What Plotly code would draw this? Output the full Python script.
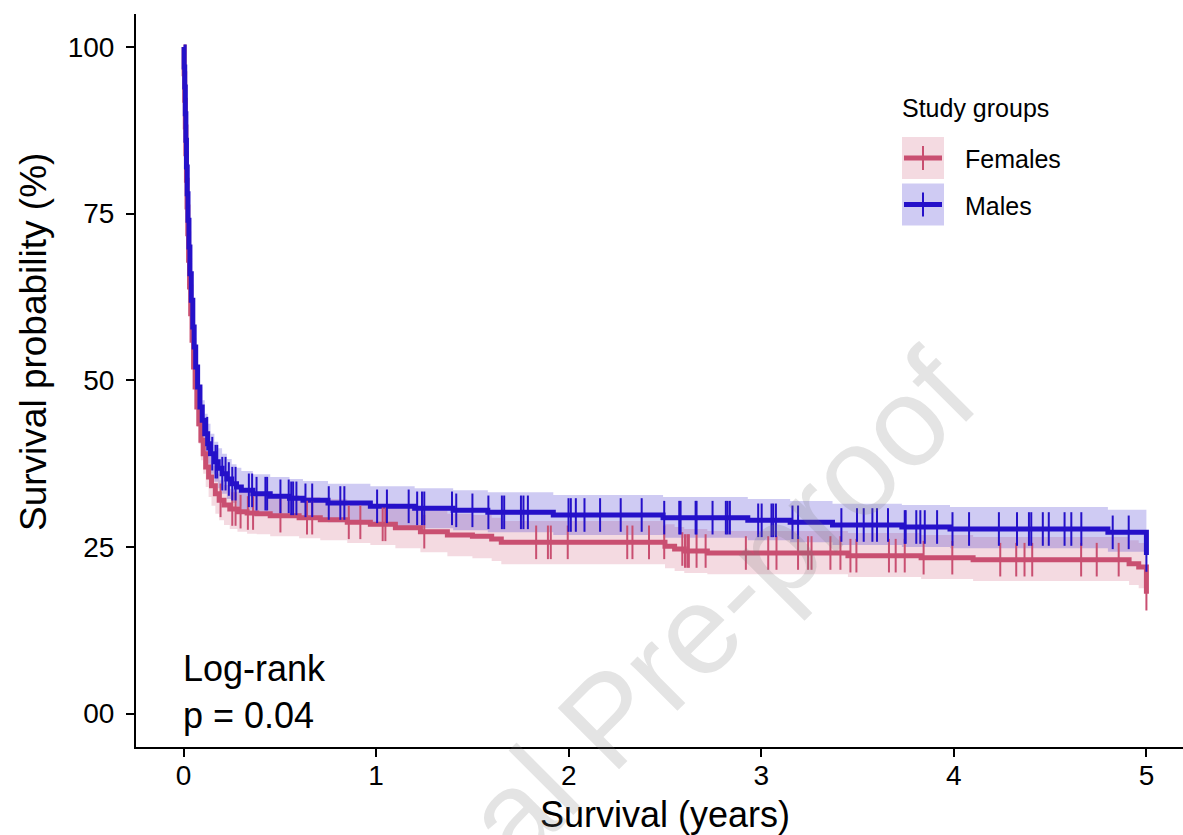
import plotly.graph_objects as go

# ---------------- data ----------------
# Females: KM step times (years), survival (%), 95% CI bounds
t_f = [0, 0.003, 0.006, 0.009, 0.012, 0.015, 0.018, 0.022, 0.026, 0.031, 0.037, 0.044, 0.052, 0.06,
       0.069, 0.079, 0.09, 0.102, 0.115, 0.13, 0.145, 0.165, 0.185, 0.21, 0.24, 0.28, 0.33,
       0.38, 0.45, 0.6, 0.71, 0.85, 0.97, 1.1, 1.23, 1.37, 1.5, 1.6, 1.65, 2.5, 2.55, 2.6, 2.72, 3.45,
       3.83, 4.1, 4.91, 4.96, 5.0]
s_f = [100, 96, 92, 88, 84, 80, 76, 72, 68, 64, 60, 56, 52, 49,
       46, 43.5, 41, 39, 37, 35.5, 34.2, 33, 32, 31.3, 30.7, 30.3, 30.1,
       30.0, 29.7, 29.4, 29.1, 28.7, 28.4, 27.9, 27.3, 26.8, 26.6, 26.2, 25.7, 25.1, 24.7, 24.4, 24.1, 23.7,
       23.4, 23.1, 22.5, 22.0, 18.0]
up_f = [100, 97.5, 94, 90.5, 86.8, 83, 79, 75, 71, 67, 63, 59, 55, 52,
        49, 46.5, 44, 42, 40, 38.5, 37.2, 36, 35, 34.3, 33.7, 33.3, 33.1,
        33.0, 32.8, 32.5, 32.2, 31.8, 31.5, 31.0, 30.5, 30.0, 29.8, 29.4, 28.9, 28.4, 28.0, 27.7, 27.4, 27.1,
        26.8, 26.5, 26.0, 25.6, 21.5]
lo_f = [100, 94.5, 90, 85.5, 81.2, 77, 73, 69, 65, 61, 57, 53, 49, 46,
        43, 40.5, 38, 36, 34, 32.5, 31.2, 30, 29, 28.3, 27.7, 27.3, 27.0,
        26.9, 26.6, 26.3, 26.0, 25.6, 25.3, 24.8, 24.2, 23.6, 23.3, 22.9, 22.4, 21.8, 21.4, 21.1, 20.9, 20.5,
        20.2, 19.9, 19.3, 18.8, 16.5]
cens_f = [0.192, 0.253, 0.270, 0.296, 0.334, 0.361, 0.503, 0.641, 0.668, 0.858, 0.918, 1.034, 1.048, 1.250,
          1.831, 1.892, 1.907, 1.995, 2.304, 2.331, 2.417, 2.496, 2.590, 2.604, 2.616, 2.624, 2.664, 2.711,
          2.920, 3.036, 3.079, 3.191, 3.243, 3.261, 3.359, 3.411, 3.463, 3.494, 3.663, 3.698, 3.745, 3.843,
          3.992, 4.241, 4.324, 4.367, 4.407, 4.661, 4.742, 4.856, 5.0]

# Males
t_m = [0, 0.003, 0.006, 0.009, 0.012, 0.015, 0.019, 0.023, 0.028, 0.033, 0.04, 0.048, 0.055, 0.063,
       0.073, 0.085, 0.097, 0.11, 0.125, 0.14, 0.16, 0.18, 0.2, 0.225, 0.25, 0.275, 0.3,
       0.36, 0.45, 0.55, 0.62, 0.75, 0.97, 1.2, 1.4, 1.58, 1.92, 2.49, 2.93, 3.15, 3.37, 3.73, 3.98, 4.8, 5.0]
s_m = [100, 97, 94, 90, 86, 82, 78, 74, 70, 66, 62, 58, 55, 52,
       49, 46, 44, 42, 40.5, 39, 37.8, 36.8, 36, 35.2, 34.5, 34, 33.5,
       33, 32.6, 32.3, 32.0, 31.6, 31.1, 30.8, 30.5, 30.2, 29.8, 29.4, 29.0, 28.7, 28.3, 28.0, 27.7, 27.2, 23.8]
up_m = [100, 98.2, 95.6, 92, 88.3, 84.5, 80.6, 76.7, 72.8, 68.9, 65, 61, 58, 55,
        52, 49, 47, 45, 43.5, 42, 40.8, 39.8, 39, 38.2, 37.4, 36.9, 36.4,
        35.9, 35.5, 35.2, 34.9, 34.5, 34.1, 33.8, 33.5, 33.2, 32.8, 32.5, 32.2, 31.9, 31.5, 31.3, 31.0, 30.6, 27.5]
lo_m = [100, 95.8, 92.4, 88, 83.7, 79.5, 75.4, 71.3, 67.2, 63.1, 59, 55, 52, 49,
        46, 43, 41, 39, 37.5, 36, 34.8, 33.8, 33, 32.2, 31.6, 31.1, 30.6,
        30.1, 29.7, 29.4, 29.1, 28.7, 28.1, 27.8, 27.5, 27.2, 26.8, 26.4, 26.0, 25.7, 25.3, 25.0, 24.8, 24.3, 21.0]
cens_m = [0.123, 0.149, 0.166, 0.175, 0.201, 0.218, 0.235, 0.253, 0.270, 0.339, 0.356, 0.379, 0.425, 0.434,
          0.503, 0.546, 0.559, 0.569, 0.586, 0.633, 0.668, 0.754, 0.814, 0.835, 1.005, 1.056, 1.169, 1.213,
          1.238, 1.250, 1.394, 1.416, 1.50, 1.583, 1.653, 1.665, 1.752, 1.765, 1.788, 1.999, 2.011, 2.037,
          2.082, 2.163, 2.270, 2.379, 2.496, 2.574, 2.581, 2.659, 2.664, 2.747, 2.816, 2.825, 2.837, 2.984,
          3.002, 3.053, 3.062, 3.076, 3.162, 3.191, 3.416, 3.497, 3.532, 3.577, 3.601, 3.658, 3.745, 3.750,
          3.805, 3.826, 3.849, 3.913, 3.993, 4.079, 4.234, 4.328, 4.390, 4.402, 4.462, 4.493, 4.575, 4.610,
          4.662, 4.825, 4.908, 5.0]

group_names = ["Females", "Males"]
x_ticks = [0, 1, 2, 3, 4, 5]
y_ticks = [0, 25, 50, 75, 100]
y_ticktext = ["00", "25", "50", "75", "100"]
pvalue_text = "Log-rank<br>p = 0.04"

# ---------------- styling ----------------
RED = "#C94F71"
BLUE = "#2511C9"
RED_FILL = "rgba(201,79,113,0.21)"
BLUE_FILL = "rgba(37,17,201,0.22)"
FONT = "Liberation Sans, Arial, sans-serif"

W, H = 1183, 835
ML, MR, MT, MB = 136, 0, 14, 88
PW, PH = W - ML - MR, H - MT - MB


def px(xp):
    return (xp - ML) / PW


def py(yp):
    return (H - MB - yp) / PH


def step_at(times, surv, t):
    v = surv[0]
    for ti, si in zip(times, surv):
        if ti <= t:
            v = si
        else:
            break
    return v


fig = go.Figure()

# confidence bands
for t, lo, up, fc in [(t_f, lo_f, up_f, RED_FILL), (t_m, lo_m, up_m, BLUE_FILL)]:
    fig.add_trace(go.Scatter(x=t, y=lo, mode="lines", line=dict(width=0, shape="hv"),
                             hoverinfo="skip", showlegend=False))
    fig.add_trace(go.Scatter(x=t, y=up, mode="lines", line=dict(width=0, shape="hv"),
                             fill="tonexty", fillcolor=fc, hoverinfo="skip", showlegend=False))

# survival curves
for name, t, s, col in [(group_names[0], t_f, s_f, RED), (group_names[1], t_m, s_m, BLUE)]:
    fig.add_trace(go.Scatter(x=t, y=s, mode="lines", name=name,
                             line=dict(color=col, width=5, shape="hv"), showlegend=False))
# censor marks
for name, t, s, cens, col in [(group_names[0], t_f, s_f, cens_f, RED),
                              (group_names[1], t_m, s_m, cens_m, BLUE)]:
    fig.add_trace(go.Scatter(x=cens, y=[step_at(t, s, c) for c in cens], mode="markers",
                             marker=dict(symbol="line-ns-open", size=24, color=col,
                                         line=dict(color=col, width=2)),
                             showlegend=False, hoverinfo="skip"))

annotations = []
shapes = []

# custom legend
annotations.append(dict(x=px(900), y=py(108), xref="paper", yref="paper", text="Study groups",
                        showarrow=False, xanchor="left", yanchor="middle",
                        font=dict(size=25, color="black", family=FONT)))
for i, (name, col, fc) in enumerate([(group_names[0], RED, RED_FILL), (group_names[1], BLUE, BLUE_FILL)]):
    top = 137 + i * 46.5
    cy = top + 21
    shapes.append(dict(type="rect", xref="paper", yref="paper", x0=px(902), x1=px(944),
                       y0=py(top), y1=py(top + 42), fillcolor=fc, line=dict(width=0), layer="above"))
    shapes.append(dict(type="line", xref="paper", yref="paper", x0=px(904), x1=px(942),
                       y0=py(cy), y1=py(cy), line=dict(color=col, width=5), layer="above"))
    shapes.append(dict(type="line", xref="paper", yref="paper", x0=px(923), x1=px(923),
                       y0=py(cy - 12), y1=py(cy + 12), line=dict(color=col, width=2), layer="above"))
    annotations.append(dict(x=px(963), y=py(cy + 1), xref="paper", yref="paper", text=name,
                            showarrow=False, xanchor="left", yanchor="middle",
                            font=dict(size=25, color="black", family=FONT)))

# p-value text
annotations.append(dict(x=px(181), y=py(692), xref="paper", yref="paper", text=pvalue_text,
                        showarrow=False, xanchor="left", yanchor="middle", align="left",
                        font=dict(size=36, color="black", family=FONT)))

# axis titles
annotations.append(dict(x=px(665), y=py(814), xref="paper", yref="paper", text="Survival (years)",
                        showarrow=False, xanchor="center", yanchor="middle",
                        font=dict(size=36, color="black", family=FONT)))
annotations.append(dict(x=px(33), y=py(342), xref="paper", yref="paper", text="Survival probability (%)",
                        showarrow=False, xanchor="center", yanchor="middle", textangle=-90,
                        font=dict(size=37, color="black", family=FONT)))

# watermark
annotations.append(dict(x=px(608), y=py(718), xref="paper", yref="paper", text="Journal Pre-proof",
                        showarrow=False, xanchor="center", yanchor="middle", textangle=-45,
                        font=dict(size=126, color="rgba(120,120,120,0.2)", family=FONT)))

fig.update_layout(
    width=W, height=H,
    margin=dict(l=ML, r=MR, t=MT, b=MB),
    paper_bgcolor="white", plot_bgcolor="white",
    showlegend=False,
    font=dict(family=FONT, color="black"),
    annotations=annotations, shapes=shapes,
    xaxis=dict(range=[-0.247, 5.19], tickvals=x_ticks, showgrid=False, zeroline=False,
               showline=True, linecolor="black", linewidth=2, ticks="outside", ticklen=8,
               tickwidth=2, tickcolor="black", tickfont=dict(size=28, family=FONT, color="black"),
               ticklabelstandoff=-6),
    yaxis=dict(range=[-5.0, 104.95], tickvals=y_ticks, ticktext=y_ticktext, showgrid=False,
               zeroline=False, showline=True, linecolor="black", linewidth=2, ticks="outside",
               ticklen=8, tickwidth=2, tickcolor="black",
               tickfont=dict(size=28, family=FONT, color="black"), ticklabelstandoff=6),
)

fig.write_html("out.html")
